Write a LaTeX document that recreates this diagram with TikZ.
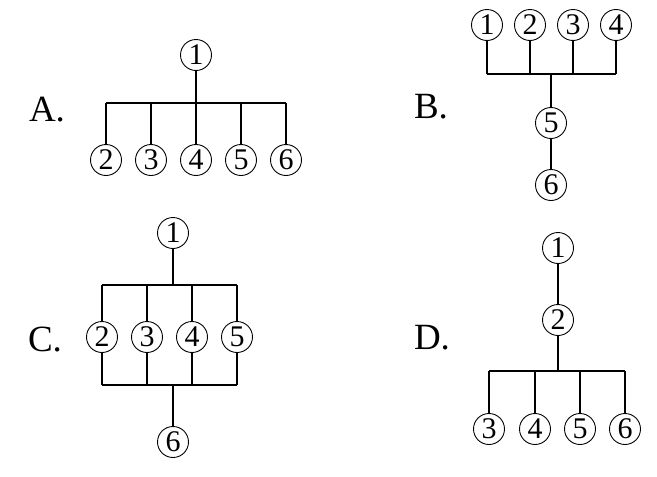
\documentclass[tikz,border=0pt]{standalone}
\usepackage{fontspec}
\setmainfont{Liberation Serif}
\begin{document}
\begin{tikzpicture}[x=1pt,y=-1pt,
  cn/.style={circle,draw,line width=0.9pt,minimum size=31pt,inner sep=0pt,font=\fontsize{30}{30}\selectfont},
  lbl/.style={font=\fontsize{37}{37}\selectfont,inner sep=0pt},
  ln/.style={line width=1.8pt}]
\useasboundingbox (0,0) rectangle (657,477);
% A
\node[lbl] (LA) at (47,110) {A.};
\node[cn] (a1) at (196,55) {1};
\foreach \i/\x in {2/106,3/151,4/196,5/241,6/286}{\node[cn] (a\i) at (\x,160) {\i};}
\coordinate (abar) at (196,103);
\draw[ln] (a1) -- (abar);
\draw[ln] (a2 |- abar) -- (a6 |- abar);
\foreach \i in {2,...,6}{\draw[ln] (a\i |- abar) -- (a\i);}
% B
\node[lbl] (LB) at (431,107) {B.};
\foreach \i/\x in {1/487,2/530,3/573,4/616}{\node[cn] (b\i) at (\x,25) {\i};}
\node[cn] (b5) at (551,123) {5};
\node[cn] (b6) at (551,185) {6};
\coordinate (bbar) at (551,74);
\foreach \i in {1,...,4}{\draw[ln] (b\i) -- (b\i |- bbar);}
\draw[ln] (b1 |- bbar) -- (b4 |- bbar);
\draw[ln] (bbar) -- (b5);
\draw[ln] (b5) -- (b6);
% C
\node[lbl] (LC) at (45,340) {C.};
\node[cn] (c1) at (173,233) {1};
\foreach \i/\x in {2/102,3/147,4/192,5/237}{\node[cn] (c\i) at (\x,337) {\i};}
\node[cn] (c6) at (173,442) {6};
\coordinate (cbar1) at (173,285);
\coordinate (cbar2) at (173,385);
\draw[ln] (c1) -- (cbar1);
\draw[ln] (c2 |- cbar1) -- (c5 |- cbar1);
\draw[ln] (c2 |- cbar2) -- (c5 |- cbar2);
\foreach \i in {2,...,5}{\draw[ln] (c\i |- cbar1) -- (c\i); \draw[ln] (c\i) -- (c\i |- cbar2);}
\draw[ln] (cbar2) -- (c6);
% D
\node[lbl] (LD) at (432,338) {D.};
\node[cn] (d1) at (558,248) {1};
\node[cn] (d2) at (558,320) {2};
\foreach \i/\x in {3/489,4/535,5/580,6/625}{\node[cn] (d\i) at (\x,429) {\i};}
\coordinate (dbar) at (558,371);
\draw[ln] (d1) -- (d2);
\draw[ln] (d2) -- (dbar);
\draw[ln] (d3 |- dbar) -- (d6 |- dbar);
\foreach \i in {3,...,6}{\draw[ln] (d\i |- dbar) -- (d\i);}
\end{tikzpicture}
\end{document}
